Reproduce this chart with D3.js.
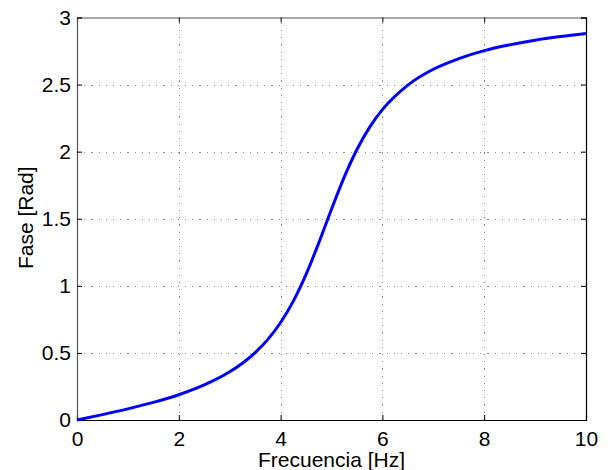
<!DOCTYPE html>
<html>
<head>
<meta charset="utf-8">
<script src="https://cdn.jsdelivr.net/npm/d3@7"></script>
<style>
  html, body { margin: 0; padding: 0; background: #fff; }
  svg { display: block; }
  text { font-family: Arial, "Liberation Sans", Helvetica, sans-serif; fill: #000; }
</style>
</head>
<body>
<svg id="chart" width="608" height="470"></svg>
<script>
// Phase response samples: frequency [Hz] and phase [rad]
const freq  = [0, 0.5, 1, 1.5, 2, 2.5, 3, 3.25, 3.5, 3.75, 4, 4.25, 4.5, 4.75, 5,
               5.25, 5.5, 5.75, 6, 6.5, 7, 7.5, 8, 8.5, 9, 9.5, 10];
const phase = [0, 0.040, 0.083, 0.131, 0.188, 0.261, 0.359, 0.423, 0.502, 0.601, 0.727,
               0.886, 1.085, 1.320, 1.571, 1.810, 2.016, 2.183, 2.313, 2.496, 2.614,
               2.693, 2.753, 2.796, 2.831, 2.858, 2.881];
const xTicks = [0, 2, 4, 6, 8, 10];
const yTicks = [0, 0.5, 1, 1.5, 2, 2.5, 3];
const xLabel = "Frecuencia [Hz]";
const yLabel = "Fase [Rad]";

(function () {
  const svg = d3.select("#chart");
  const m = { left: 77, right: 586, top: 17.5, bottom: 420 };
  const fontSize = 21;

  const x = d3.scaleLinear().domain([0, 10]).range([m.left, m.right]);
  const y = d3.scaleLinear().domain([0, 3]).range([m.bottom, m.top]);

  // Grid
  const grid = svg.append("g")
    .attr("stroke", "#8c8c8c").attr("stroke-width", 1)
    .attr("stroke-dasharray", "1.2,6").attr("shape-rendering", "crispEdges");
  grid.selectAll("line.gx").data(xTicks.slice(1, -1)).enter().append("line")
    .attr("x1", d => Math.round(x(d)) + 0.5).attr("x2", d => Math.round(x(d)) + 0.5)
    .attr("y1", m.bottom).attr("y2", m.top);
  grid.selectAll("line.gy").data(yTicks.slice(1, -1)).enter().append("line")
    .attr("y1", d => Math.round(y(d)) + 0.5).attr("y2", d => Math.round(y(d)) + 0.5)
    .attr("x1", m.left).attr("x2", m.right);

  // Axes (ticks pointing inward)
  const xAxis = d3.axisBottom(x).tickValues(xTicks).tickSize(-5).tickPadding(11)
    .tickFormat(d3.format("d"));
  const xAxisTop = d3.axisTop(x).tickValues(xTicks).tickSize(-5).tickFormat("");
  const yAxis = d3.axisLeft(y).tickValues(yTicks).tickSize(-5).tickPadding(6)
    .tickFormat(d => String(d));
  const yAxisRight = d3.axisRight(y).tickValues(yTicks).tickSize(-5).tickFormat("");

  function styleAxis(g) {
    g.select(".domain").attr("stroke", "#000").attr("stroke-width", 1.2);
    g.selectAll(".tick line").attr("stroke", "#000");
    g.selectAll(".tick text").attr("font-size", fontSize)
      .attr("font-family", "Arial, 'Liberation Sans', Helvetica, sans-serif").attr("fill", "#000");
  }

  svg.append("g").attr("transform", `translate(0,${m.bottom})`).call(xAxis).call(styleAxis);
  svg.append("g").attr("transform", `translate(0,${m.top})`).call(xAxisTop).call(styleAxis)
    .select(".domain").attr("stroke", "#555");
  svg.append("g").attr("transform", `translate(${m.left},0)`).call(yAxis).call(styleAxis)
    .select(".domain").attr("stroke", "#555");
  svg.append("g").attr("transform", `translate(${m.right},0)`).call(yAxisRight).call(styleAxis);

  // Phase curve
  const line = d3.line().x((d, i) => x(freq[i])).y(d => y(d)).curve(d3.curveMonotoneX);
  svg.append("path").datum(phase)
    .attr("d", line).attr("fill", "none")
    .attr("stroke", "#0000ff").attr("stroke-width", 3).attr("stroke-linejoin", "round");

  // Axis labels
  svg.append("text").attr("x", (m.left + m.right) / 2).attr("y", 467)
    .attr("text-anchor", "middle").attr("font-size", fontSize).text(xLabel);
  svg.append("text").attr("transform", `translate(33,${(m.top + m.bottom) / 2 - 1}) rotate(-90)`)
    .attr("text-anchor", "middle").attr("font-size", fontSize).text(yLabel);
})();
</script>
</body>
</html>
